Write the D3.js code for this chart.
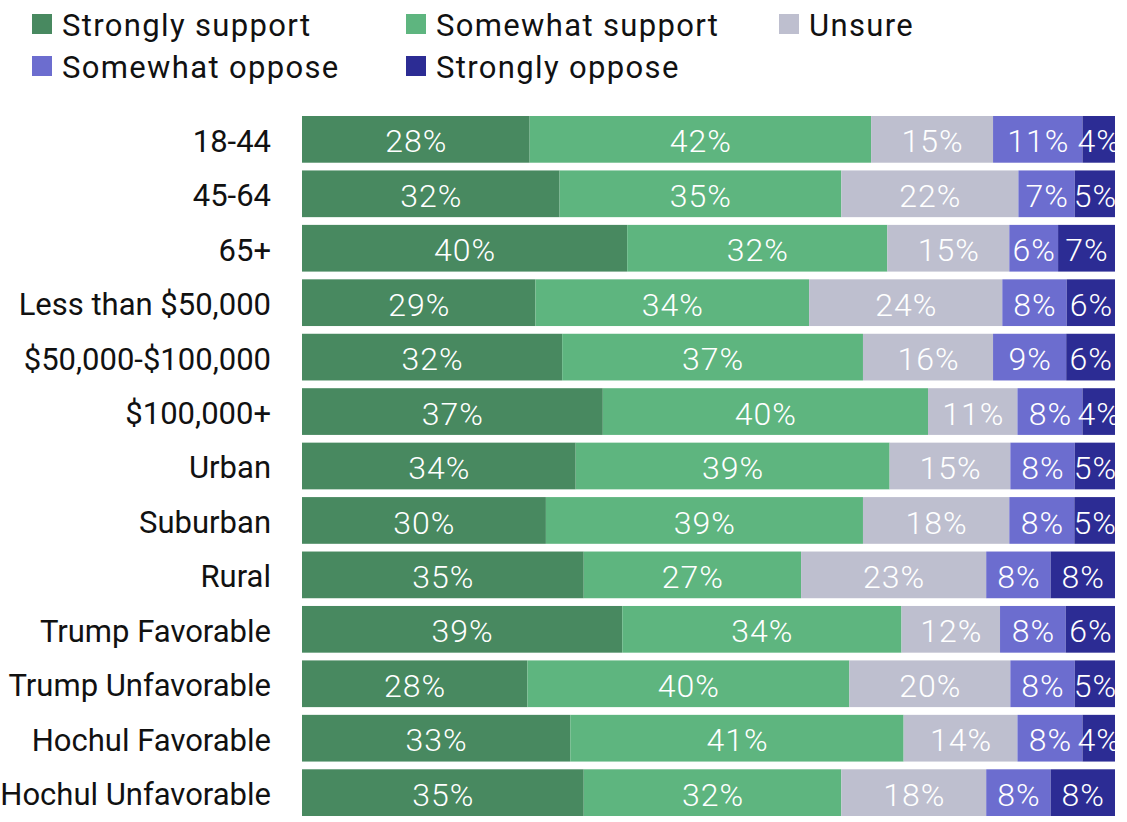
<!DOCTYPE html>
<html>
<head>
<meta charset="utf-8">
<script src="https://cdn.jsdelivr.net/npm/d3@7"></script>
<style>
  html, body { margin: 0; padding: 0; background: #fff; }
  svg { display: block; font-family: Roboto, "Noto Sans", sans-serif; }
</style>
</head>
<body>
<svg id="chart" width="1127" height="822"></svg>
<script>
const categories = ["18-44", "45-64", "65+", "Less than $50,000", "$50,000-$100,000", "$100,000+",
  "Urban", "Suburban", "Rural", "Trump Favorable", "Trump Unfavorable", "Hochul Favorable", "Hochul Unfavorable"];
const seriesNames = ["Strongly support", "Somewhat support", "Unsure", "Somewhat oppose", "Strongly oppose"];
const stronglySupport = [28, 32, 40, 29, 32, 37, 34, 30, 35, 39, 28, 33, 35];
const somewhatSupport = [42, 35, 32, 34, 37, 40, 39, 39, 27, 34, 40, 41, 32];
const unsure          = [15, 22, 15, 24, 16, 11, 15, 18, 23, 12, 20, 14, 18];
const somewhatOppose  = [11, 7, 6, 8, 9, 8, 8, 8, 8, 8, 8, 8, 8];
const stronglyOppose  = [4, 5, 7, 6, 6, 4, 5, 5, 8, 6, 5, 4, 8];
const colors = ["#488960", "#5eb57f", "#bebfcf", "#6c6dcf", "#2c2c94"];

const seriesValues = [stronglySupport, somewhatSupport, unsure, somewhatOppose, stronglyOppose];
const rows = categories.map((c, i) => {
  const r = { category: c };
  seriesNames.forEach((s, j) => r[s] = seriesValues[j][i]);
  return r;
});

const svg = d3.select("#chart");

const x = d3.scaleLinear().domain([0, 1]).range([302, 1115]);
const y = d3.scaleBand().domain(categories).range([116, 816]).paddingInner(0.142).paddingOuter(0);
const color = d3.scaleOrdinal().domain(seriesNames).range(colors);

const stacked = d3.stack().keys(seriesNames).offset(d3.stackOffsetExpand)(rows);

const layers = svg.append("g").selectAll("g").data(stacked).join("g")
  .attr("fill", d => color(d.key));

layers.selectAll("rect").data(d => d).join("rect")
  .attr("x", d => x(d[0]))
  .attr("y", d => y(d.data.category))
  .attr("width", d => x(d[1]) - x(d[0]))
  .attr("height", y.bandwidth());

const labels = svg.append("g");
stacked.forEach(layer => {
  labels.selectAll(null).data(layer).join("text")
    .attr("x", d => (x(d[0]) + x(d[1])) / 2 + 0.5)
    .attr("y", d => y(d.data.category) + y.bandwidth() / 2)
    .attr("dy", "0.41em")
    .attr("text-anchor", "middle")
    .attr("fill", "#fff")
    .attr("font-size", 32)
    .attr("font-weight", 300)
    .attr("letter-spacing", "1px")
    .text(d => d.data[layer.key] + "%");
});

// category axis
const yAxis = svg.append("g").attr("transform", "translate(302,0)")
  .call(d3.axisLeft(y).tickSize(0).tickPadding(31));
yAxis.select(".domain").remove();
yAxis.selectAll("text").attr("font-size", 31).attr("fill", "#111")
  .attr("font-family", "Roboto, sans-serif").attr("dy", "0.4em");

// legend
const legendPos = [[32, 14], [406, 14], [779, 14], [32, 56], [406, 56]];
const legend = svg.append("g");
seriesNames.forEach((s, i) => {
  const [lx, ly] = legendPos[i];
  legend.append("rect").attr("x", lx).attr("y", ly).attr("width", 20).attr("height", 20).attr("fill", color(s));
  legend.append("text").attr("x", lx + 30).attr("y", ly + 10).attr("dy", "0.38em")
    .attr("font-size", 31).attr("letter-spacing", "1.35px").attr("fill", "#111").text(s);
});
</script>
</body>
</html>
